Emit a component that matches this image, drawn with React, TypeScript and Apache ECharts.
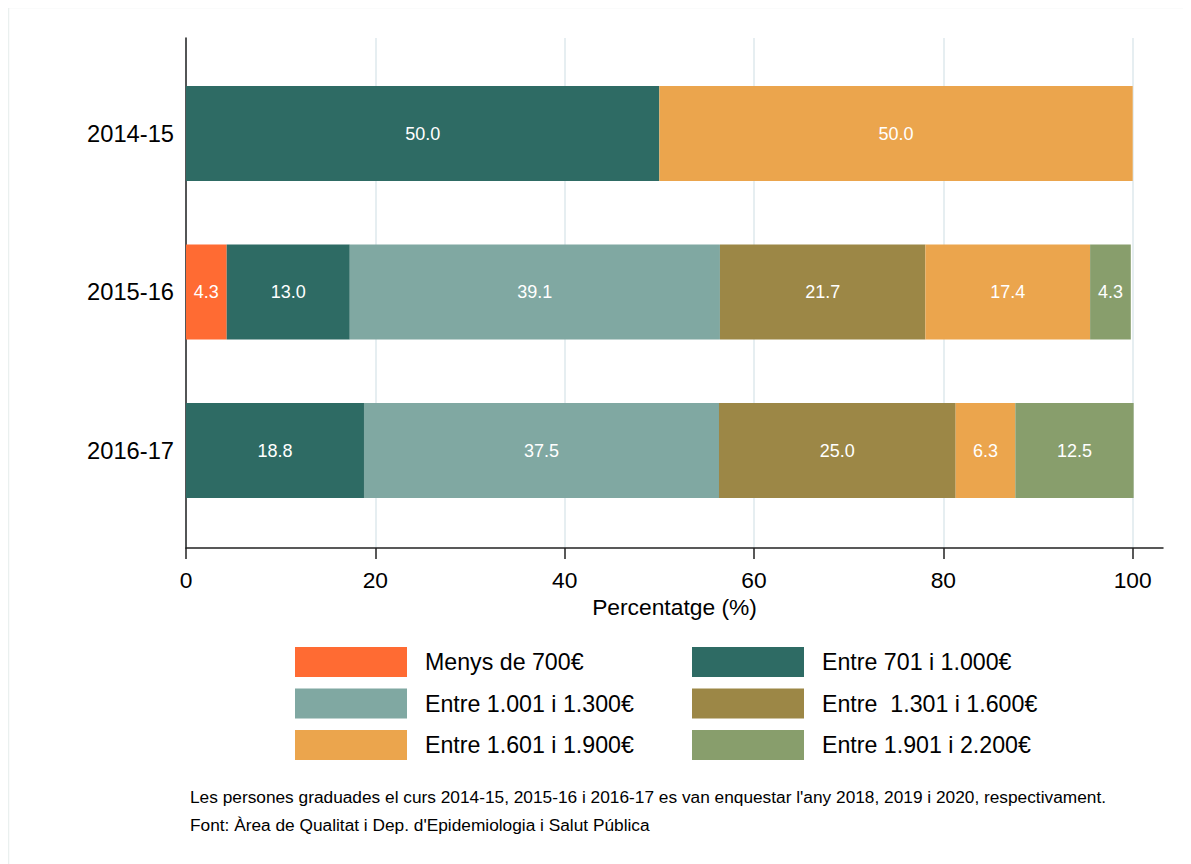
import React, { useEffect, useRef } from "react";
import * as echarts from "echarts";

const categories = ["2014-15", "2015-16", "2016-17"];
const seriesNames = [
  "Menys de 700€",
  "Entre 701 i 1.000€",
  "Entre 1.001 i 1.300€",
  "Entre  1.301 i 1.600€",
  "Entre 1.601 i 1.900€",
  "Entre 1.901 i 2.200€",
];
const menys700 = [null, 4.3, null];
const entre701 = [50.0, 13.0, 18.8];
const entre1001 = [null, 39.1, 37.5];
const entre1301 = [null, 21.7, 25.0];
const entre1601 = [50.0, 17.4, 6.3];
const entre1901 = [null, 4.3, 12.5];
const seriesValues = [menys700, entre701, entre1001, entre1301, entre1601, entre1901];
const colors = ["#ff6b33", "#2e6b64", "#80a8a2", "#9c8746", "#eba54d", "#889e6c"];
const xTicks = [0, 20, 40, 60, 80, 100];
const footnotes = [
  "Les persones graduades el curs 2014-15, 2015-16 i 2016-17 es van enquestar l'any 2018, 2019 i 2020, respectivament.",
  "Font: Àrea de Qualitat i Dep. d'Epidemiologia i Salut Pública",
];

const FONT = "'Liberation Sans', Arial, sans-serif";
const FS = 23.2;

export default function App() {
  const ref = useRef<HTMLDivElement>(null);
  useEffect(() => {
    if (!ref.current) return;
    const chart = echarts.init(ref.current, null, { renderer: "svg" });
    const xMax = 103.2;
    chart.setOption({
      animation: false,
      backgroundColor: "#ffffff",
      textStyle: { fontFamily: FONT },
      grid: [
        { left: 178, right: 28, top: 30, bottom: 316 },
        { left: 178, right: 28, top: 46.25, bottom: 334.25 },
      ],
      xAxis: [
        {
          type: "value",
          gridIndex: 0,
          min: 0,
          max: xMax,
          interval: 20,
          name: "Percentatge (%)",
          nameLocation: "middle",
          nameGap: 45,
          nameTextStyle: { fontSize: 22.8, color: "#000", fontFamily: FONT },
          axisLine: { show: true, lineStyle: { color: "#222", width: 1.5 } },
          axisTick: { show: true, length: 11, lineStyle: { color: "#222", width: 1.5 }, customValues: xTicks },
          axisLabel: { fontSize: 22.8, color: "#000", margin: 20, fontFamily: FONT, customValues: xTicks },
          splitLine: { show: true, lineStyle: { color: "#e6eef1", width: 2 } },
        },
        {
          type: "value",
          gridIndex: 1,
          min: 0,
          max: xMax,
          show: false,
          splitLine: { show: false },
        },
      ],
      yAxis: [
        {
          type: "value",
          gridIndex: 0,
          min: 0,
          max: 1,
          axisLine: { show: true, lineStyle: { color: "#222", width: 1.5 } },
          axisTick: { show: false },
          axisLabel: { show: false },
          splitLine: { show: false },
        },
        {
          type: "category",
          gridIndex: 1,
          data: categories,
          inverse: true,
          axisLine: { show: false },
          axisTick: { show: false },
          axisLabel: { fontSize: FS + 0.5, color: "#000", margin: 12, fontFamily: FONT },
          splitLine: { show: false },
        },
      ],
      legend: [
        {
          orient: "vertical",
          left: 282,
          top: 634,
          itemWidth: 112,
          itemHeight: 30,
          itemGap: 11.5,
          icon: "rect",
          data: [seriesNames[0], seriesNames[2], seriesNames[4]],
          textStyle: { fontSize: FS, color: "#000", fontFamily: FONT, padding: [0, 0, 0, 13] },
        },
        {
          orient: "vertical",
          left: 679,
          top: 634,
          itemWidth: 112,
          itemHeight: 30,
          itemGap: 11.5,
          icon: "rect",
          data: [seriesNames[1], seriesNames[3], seriesNames[5]],
          textStyle: { fontSize: FS, color: "#000", fontFamily: FONT, padding: [0, 0, 0, 13] },
        },
      ],
      series: seriesNames.map((name, i) => ({
        name,
        type: "bar",
        stack: "total",
        xAxisIndex: 1,
        yAxisIndex: 1,
        barWidth: 95,
        data: seriesValues[i],
        itemStyle: { color: colors[i] },
        label: {
          show: true,
          position: "inside",
          color: "#fff",
          fontSize: 18,
          fontFamily: FONT,
          formatter: (p: any) => (p.value == null ? "" : Number(p.value).toFixed(1)),
        },
      })),
      graphic: [
        {
          type: "rect",
          shape: { x: 0.5, y: -0.5, width: 1200, height: 900 },
          style: { fill: "none", stroke: "#eaf0ef", lineWidth: 1.5 },
          silent: true,
        },
        ...footnotes.map((t, i) => ({
          type: "text",
          left: 182,
          top: 780.3 + i * 28,
          style: { text: t, fontSize: 17.3, fill: "#000", fontFamily: FONT },
        })),
      ],
    });
    return () => chart.dispose();
  }, []);
  return <div ref={ref} style={{ width: 1183, height: 856 }} />;
}
